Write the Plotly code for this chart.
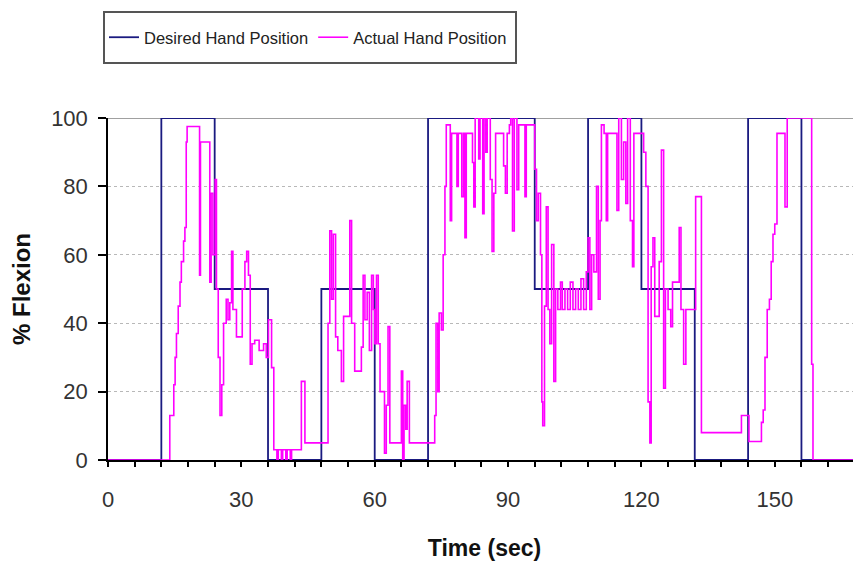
import plotly.graph_objects as go

# Desired hand position (step changes, seconds / % flexion)
desired_t = [0, 12, 24, 36, 48, 60, 72, 96, 108, 120, 132, 144, 156, 170]
desired_v = [0, 100, 50, 0, 50, 0, 100, 50, 100, 50, 0, 100, 0, 0]

# Actual hand position (step-held samples)
actual_t = [0, 13.9, 14.8, 15.1, 15.4, 15.8, 16.2, 16.5, 17.0, 17.3, 17.6, 17.8,
            20.6, 20.8, 22.9, 23.2, 23.6, 24.1, 24.4, 24.8, 25.2, 25.6, 26.0, 26.6,
            27.0, 27.4, 27.8, 28.1, 28.9, 30.2, 30.8, 31.2, 31.6, 32.0, 32.4, 33.0,
            34.0, 35.0, 35.6, 36.1, 36.8, 37.3, 38.0, 38.3, 39.0, 39.3, 40.0, 40.3,
            41.0, 41.3, 43.5, 44.3, 49.5, 49.9, 50.3, 50.7, 51.2, 51.7, 52.5, 53.0,
            54.4, 54.8, 55.5, 57.0, 57.4, 57.8, 58.3, 58.8, 59.3, 59.7, 60.0, 60.4,
            60.8, 61.2, 62.2, 62.6, 63.0, 63.4, 63.8, 66.0, 66.3, 66.6, 67.0, 67.3,
            67.8, 68.2, 73.5, 73.8, 74.2, 74.5, 75.0, 75.4, 75.8, 76.1, 77.0, 77.3,
            78.5, 78.8, 79.6, 80.0, 80.3, 80.6, 82.0, 82.3, 82.6, 83.4, 83.7, 84.3,
            84.6, 85.0, 85.3, 86.0, 86.4, 86.8, 87.2, 89.0, 89.4, 89.8, 90.3, 90.6,
            91.0, 91.4, 92.0, 92.4, 93.8, 94.1, 96.0, 96.4, 96.8, 97.3, 97.6, 97.8,
            98.2, 98.6, 99.0, 99.4, 99.8, 100.3, 100.7, 101.2, 101.8, 102.2, 102.8,
            103.4, 104.0, 104.6, 105.2, 105.8, 106.4, 107.0, 107.6, 108.0, 108.4,
            108.8, 109.3, 109.9, 110.3, 110.7, 111.0, 111.6, 112.1, 112.4, 114.5,
            114.9, 115.5, 116.0, 116.5, 116.9, 117.5, 118.0, 118.3, 120.5, 121.0,
            121.5, 121.9, 122.2, 122.6, 123.0, 124.0, 124.5, 125.0, 125.4, 126.0,
            126.6, 127.0, 128.5, 128.9, 129.5, 130.0, 132.2, 133.5, 142.5, 144.2,
            147.0, 147.4, 147.8, 148.3, 148.8, 149.2, 149.6, 150.0, 150.5, 152.3,
            152.8, 158.3, 158.6, 170]
actual_v = [0, 13, 22, 30, 37, 45, 52, 58, 64, 68, 93, 97.5,
            54, 93, 52, 78, 60, 82, 50, 30, 13, 22, 40, 47,
            41, 46, 61, 44, 36, 50, 58, 61, 54, 28, 34, 35,
            32, 34, 30, 41, 27, 3, 0, 3, 0, 3, 0, 3,
            0, 3, 23, 5, 40, 67, 47, 66, 36, 32, 23, 42,
            70, 40, 26, 33, 54, 41, 49, 32, 54, 44, 34, 54,
            34, 20, 2, 16, 39, 5, 5, 26, 0, 16, 9, 23,
            5, 5, 13, 40, 20, 43, 38, 60, 80, 98, 70, 95.5,
            80, 95.5, 77, 95.5, 65, 95.5, 87, 74, 100, 88, 100, 72,
            100, 90, 100, 82, 61, 78, 95.5, 86, 78, 95.5, 98, 100,
            67, 100, 79, 98, 77, 98, 85, 70, 78, 60, 17, 10,
            45, 74, 44, 34, 63, 23, 50, 44, 52, 44, 50,
            44, 52, 44, 50, 44, 53, 44, 55, 65, 44,
            60, 55, 80, 47, 70, 98, 95.5, 70, 95.5, 73,
            100, 82, 93, 75, 100, 70, 56.5, 95.5, 90, 80,
            17, 5, 56.5, 65, 42, 58, 90.6, 21, 50, 44,
            39, 52, 68, 44, 28, 44, 77, 8, 13, 5.4,
            11, 14.6, 30, 44, 47, 58, 66, 69, 95.5, 74,
            100, 28, 0, 0]

y_ticks = [0, 20, 40, 60, 80, 100]
x_ticks = list(range(0, 169, 6))
x_labels = [str(v) if v % 30 == 0 else "" for v in x_ticks]

FONT = "Liberation Sans, Arial, sans-serif"

# page has an 8px body margin, so the figure is sized to end at the window edge
OFF = 8
W, H = 861 - OFF, 568 - OFF
ML, MR, MT, MB = 108 - OFF, 0, 118 - OFF, 568 - 460
PW, PH = W - ML - MR, H - MT - MB


def px_to_paper_x(px):
    return (px - OFF - ML) / PW


def px_to_paper_y(py):
    return (H - MB - (py - OFF)) / PH


fig = go.Figure()
fig.add_trace(go.Scatter(
    x=desired_t, y=desired_v, mode="lines", line_shape="hv",
    name="Desired Hand Position", line=dict(color="#1a1a80", width=1.8)))
fig.add_trace(go.Scatter(
    x=actual_t, y=actual_v, mode="lines", line_shape="hv",
    name="Actual Hand Position", line=dict(color="#ff00ff", width=1.6)))

fig.update_layout(
    width=W, height=H,
    margin=dict(l=ML, r=MR, t=MT, b=MB, autoexpand=False),
    paper_bgcolor="white", plot_bgcolor="white",
    font=dict(family=FONT, color="#222222", size=20),
    showlegend=True,
    legend=dict(orientation="h", x=px_to_paper_x(104), xanchor="left",
                y=px_to_paper_y(37.5), yanchor="middle",
                borderwidth=0, bgcolor="rgba(0,0,0,0)",
                font=dict(family=FONT, size=16.5, color="#222222"),
                itemwidth=30, tracegroupgap=0),
    xaxis=dict(range=[0, 169.4], tickmode="array", tickvals=x_ticks, ticktext=x_labels,
               ticks="outside", ticklen=5, tickwidth=1.5, tickcolor="black",
               showline=True, linecolor="black", linewidth=2, automargin=False,
               showgrid=False, zeroline=False, ticklabelstandoff=14,
               tickfont=dict(family=FONT, size=22, color="#333333"),
               title=dict(text="<b>Time (sec)</b>", standoff=28,
                          font=dict(family=FONT, size=23, color="#111111"))),
    xaxis2=dict(range=[0, 169.4], overlaying="x", anchor="y", tickmode="array",
                tickvals=x_ticks, ticktext=["" for _ in x_ticks], ticks="inside",
                ticklen=5, tickwidth=1.5, tickcolor="black", showgrid=False,
                zeroline=False, showline=False, side="bottom", automargin=False),
    yaxis=dict(range=[0, 100], tickmode="array", tickvals=y_ticks,
               ticks="outside", ticklen=8, tickwidth=1.5, tickcolor="black",
               showline=True, linecolor="black", linewidth=1.5, automargin=False,
               showgrid=True, gridcolor="#b8b8b8", griddash="dot", gridwidth=1,
               zeroline=False, ticklabelstandoff=6,
               tickfont=dict(family=FONT, size=22, color="#333333"),
               title=dict(text="<b>% Flexion</b>", standoff=14,
                          font=dict(family=FONT, size=24, color="#111111"))),
    shapes=[
        dict(type="line", xref="paper", yref="y", x0=0, x1=1, y0=100, y1=100,
             line=dict(color="#a0a0a0", width=2), layer="below"),
        dict(type="rect", xref="paper", yref="paper",
             x0=px_to_paper_x(104), x1=px_to_paper_x(516),
             y0=px_to_paper_y(63), y1=px_to_paper_y(12),
             line=dict(color="#555555", width=2), fillcolor="rgba(0,0,0,0)"),
    ],
)

fig.write_html("out.html")
